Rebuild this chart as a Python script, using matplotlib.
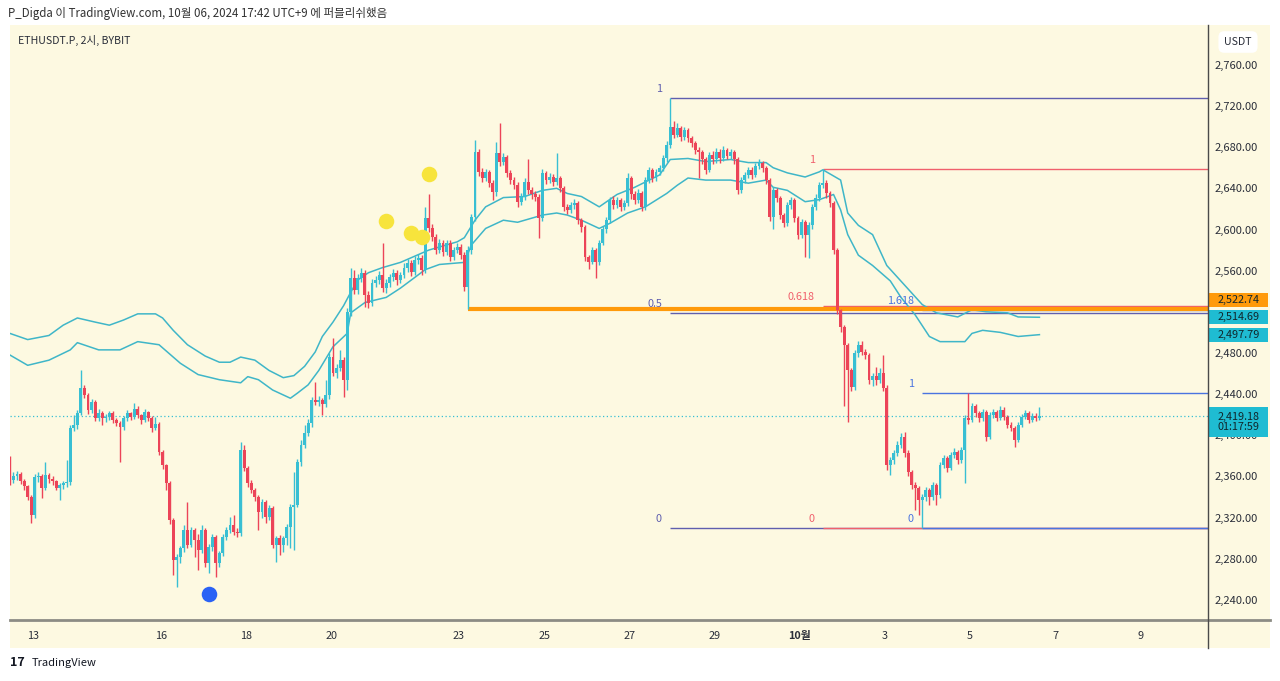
import numpy as np
import matplotlib
matplotlib.use("Agg")
import matplotlib.pyplot as plt
from matplotlib.patches import Rectangle
from matplotlib.lines import Line2D
import matplotlib.transforms as mtransforms

plt.rcParams['font.family'] = ['Noto Sans CJK KR', 'DejaVu Sans']

# ---- data (ETHUSDT.P, 2h candles) ----
header = "P_Digda 이 TradingView.com, 10월 06, 2024 17:42 UTC+9 에 퍼블리쉬했음"
symbol = "ETHUSDT.P, 2시, BYBIT"

first_hour = -13          # first candle: Sep 12 11:00, hours from Sep 13 00:00
first_open = 2368

closes = [
    2357, 2360, 2362, 2356, 2351, 2340, 2323, 2359, 2360, 2349,
    2361, 2358, 2356, 2349, 2352, 2354, 2355, 2407, 2410, 2422,
    2446, 2439, 2425, 2432, 2417, 2422, 2417, 2418, 2422, 2415,
    2412, 2408, 2417, 2422, 2418, 2426, 2420, 2415, 2423, 2417,
    2407, 2411, 2384, 2371, 2354, 2318, 2279, 2282, 2290, 2308,
    2293, 2308, 2298, 2289, 2308, 2276, 2291, 2301, 2276, 2286,
    2301, 2308, 2313, 2306, 2305, 2386, 2368, 2354, 2347, 2340,
    2325, 2335, 2321, 2329, 2293, 2300, 2293, 2300, 2311, 2330,
    2332, 2374, 2391, 2402, 2412, 2434, 2432, 2434, 2430, 2439,
    2476, 2461, 2465, 2473, 2454, 2520, 2553, 2541, 2553, 2558,
    2536, 2529, 2548, 2551, 2556, 2543, 2548, 2554, 2558, 2551,
    2556, 2563, 2567, 2559, 2570, 2572, 2561, 2611, 2601, 2593,
    2580, 2587, 2578, 2587, 2573, 2580, 2583, 2575, 2544, 2580,
    2612, 2675, 2656, 2650, 2656, 2645, 2636, 2674, 2666, 2670,
    2655, 2648, 2643, 2627, 2632, 2646, 2638, 2634, 2632, 2611,
    2655, 2648, 2651, 2646, 2650, 2640, 2622, 2619, 2624, 2626,
    2609, 2602, 2573, 2568, 2580, 2568, 2587, 2600, 2609, 2629,
    2624, 2629, 2622, 2626, 2650, 2634, 2629, 2635, 2622, 2648,
    2658, 2650, 2656, 2660, 2669, 2682, 2700, 2692, 2699, 2690,
    2697, 2689, 2684, 2677, 2675, 2668, 2658, 2672, 2668, 2675,
    2669, 2677, 2671, 2675, 2668, 2638, 2648, 2653, 2658, 2653,
    2662, 2665, 2660, 2648, 2612, 2638, 2631, 2614, 2606, 2624,
    2629, 2611, 2595, 2607, 2595, 2604, 2622, 2631, 2643, 2645,
    2635, 2626, 2580, 2522, 2505, 2488, 2463, 2447, 2480, 2488,
    2481, 2478, 2454, 2458, 2454, 2461, 2446, 2371, 2376, 2383,
    2391, 2398, 2383, 2364, 2352, 2349, 2337, 2340, 2347, 2340,
    2352, 2342, 2371, 2378, 2368, 2381, 2384, 2376, 2386, 2417,
    2415, 2428, 2422, 2417, 2423, 2398, 2420, 2423, 2417, 2425,
    2418, 2410, 2407, 2395, 2410, 2418, 2422, 2415, 2419, 2417,
    2419.18]

highs = [
    2380, 2364, 2365, 2364, 2358, 2352, 2342, 2362, 2364, 2362,
    2374, 2363, 2360, 2357, 2354, 2356, 2376, 2410, 2420, 2425,
    2463, 2449, 2441, 2435, 2434, 2426, 2424, 2421, 2424, 2424,
    2417, 2414, 2419, 2425, 2423, 2431, 2428, 2421, 2426, 2424,
    2419, 2418, 2413, 2386, 2372, 2356, 2320, 2285, 2292, 2313,
    2335, 2311, 2310, 2304, 2313, 2310, 2294, 2304, 2303, 2288,
    2304, 2311, 2321, 2323, 2310, 2393, 2391, 2370, 2357, 2349,
    2342, 2338, 2337, 2332, 2331, 2302, 2303, 2302, 2314, 2333,
    2364, 2377, 2395, 2410, 2416, 2437, 2452, 2438, 2436, 2454,
    2480, 2495, 2469, 2483, 2476, 2524, 2563, 2561, 2557, 2563,
    2561, 2540, 2552, 2555, 2560, 2587, 2552, 2557, 2562, 2561,
    2559, 2567, 2571, 2570, 2574, 2576, 2575, 2622, 2634, 2605,
    2596, 2591, 2590, 2590, 2590, 2583, 2587, 2586, 2578, 2584,
    2615, 2687, 2678, 2660, 2659, 2658, 2648, 2685, 2703, 2674,
    2672, 2658, 2651, 2646, 2635, 2650, 2668, 2641, 2637, 2634,
    2659, 2657, 2655, 2654, 2674, 2652, 2642, 2625, 2627, 2630,
    2628, 2611, 2604, 2575, 2583, 2582, 2590, 2603, 2612, 2632,
    2633, 2632, 2631, 2629, 2655, 2652, 2637, 2639, 2637, 2651,
    2661, 2660, 2659, 2663, 2672, 2686, 2728, 2705, 2703, 2701,
    2700, 2699, 2691, 2686, 2680, 2677, 2670, 2675, 2676, 2679,
    2678, 2681, 2679, 2678, 2677, 2670, 2651, 2656, 2661, 2661,
    2665, 2668, 2667, 2662, 2650, 2641, 2640, 2633, 2616, 2627,
    2632, 2631, 2613, 2610, 2609, 2607, 2625, 2634, 2646, 2659,
    2648, 2637, 2628, 2582, 2523, 2507, 2490, 2465, 2483, 2492,
    2492, 2484, 2480, 2461, 2466, 2465, 2478, 2449, 2379, 2386,
    2394, 2402, 2403, 2386, 2366, 2355, 2351, 2343, 2350, 2349,
    2355, 2354, 2374, 2381, 2380, 2384, 2388, 2386, 2389, 2420,
    2441, 2431, 2430, 2424, 2426, 2425, 2423, 2426, 2425, 2428,
    2427, 2420, 2413, 2409, 2413, 2421, 2425, 2424, 2422, 2422,
    2427]

lows = [
    2352, 2354, 2357, 2353, 2347, 2337, 2315, 2320, 2355, 2339,
    2347, 2354, 2352, 2347, 2337, 2348, 2350, 2352, 2404, 2406,
    2420, 2436, 2421, 2422, 2414, 2414, 2410, 2413, 2415, 2412,
    2409, 2374, 2405, 2414, 2415, 2416, 2417, 2411, 2413, 2414,
    2403, 2405, 2381, 2367, 2347, 2314, 2264, 2253, 2276, 2287,
    2290, 2291, 2282, 2269, 2286, 2272, 2266, 2288, 2262, 2272,
    2283, 2298, 2305, 2303, 2301, 2302, 2365, 2350, 2344, 2336,
    2308, 2320, 2315, 2318, 2290, 2277, 2284, 2287, 2293, 2290,
    2289, 2330, 2370, 2388, 2399, 2408, 2429, 2428, 2420, 2427,
    2435, 2458, 2456, 2462, 2437, 2444, 2516, 2537, 2537, 2549,
    2525, 2524, 2526, 2544, 2547, 2539, 2538, 2544, 2550, 2546,
    2548, 2553, 2559, 2555, 2556, 2566, 2556, 2558, 2598, 2589,
    2576, 2577, 2574, 2575, 2569, 2570, 2577, 2571, 2540, 2523,
    2576, 2608, 2652, 2646, 2647, 2641, 2629, 2633, 2662, 2663,
    2651, 2644, 2639, 2622, 2624, 2629, 2634, 2630, 2628, 2592,
    2608, 2644, 2645, 2642, 2643, 2636, 2618, 2615, 2616, 2620,
    2605, 2598, 2569, 2562, 2566, 2553, 2565, 2585, 2597, 2606,
    2620, 2621, 2618, 2619, 2623, 2630, 2625, 2626, 2618, 2619,
    2645, 2646, 2647, 2653, 2657, 2666, 2679, 2689, 2690, 2686,
    2687, 2685, 2680, 2673, 2650, 2664, 2654, 2656, 2664, 2665,
    2665, 2667, 2668, 2668, 2664, 2634, 2635, 2645, 2650, 2649,
    2651, 2659, 2656, 2644, 2608, 2600, 2627, 2610, 2602, 2603,
    2620, 2607, 2591, 2592, 2573, 2572, 2600, 2619, 2628, 2640,
    2631, 2622, 2576, 2518, 2500, 2428, 2413, 2443, 2444, 2476,
    2478, 2474, 2450, 2448, 2449, 2451, 2443, 2366, 2361, 2372,
    2380, 2388, 2379, 2360, 2348, 2327, 2323, 2310, 2336, 2332,
    2337, 2332, 2339, 2368, 2364, 2366, 2378, 2372, 2373, 2354,
    2411, 2413, 2418, 2413, 2414, 2394, 2396, 2417, 2414, 2415,
    2415, 2407, 2404, 2389, 2393, 2408, 2416, 2412, 2413, 2414,
    2415]

# two cyan band lines (candle index -> price)
upper_idx = [0, 5, 11, 15, 19, 24, 28, 32, 36, 41, 43, 46, 50, 55, 59, 62, 65, 69, 73, 77,
             80, 83, 86, 88, 91, 94, 96, 98, 101, 105, 110, 114, 118, 122, 126, 128, 131, 134,
             139, 145, 150, 154, 157, 161, 166, 171, 176, 183, 186, 191, 196, 203, 208, 213,
             215, 219, 224, 228, 229, 234, 236, 239, 243, 247, 252, 257, 261, 267, 271, 275,
             281, 284, 290]
upper_val = [2499, 2493, 2497, 2507, 2514, 2510, 2507, 2512, 2518, 2518, 2514, 2502, 2488,
             2477, 2471, 2471, 2476, 2473, 2463, 2456, 2458, 2467, 2481, 2496, 2510, 2526,
             2539, 2551, 2558, 2563, 2568, 2574, 2580, 2584, 2588, 2592, 2609, 2622, 2631,
             2632, 2638, 2640, 2635, 2632, 2622, 2634, 2641, 2653, 2668, 2669, 2666, 2668,
             2665, 2665, 2660, 2655, 2651, 2656, 2658, 2648, 2616, 2604, 2595, 2565, 2546,
             2527, 2519, 2515, 2522, 2520, 2519, 2515, 2514.69]
lower_idx = [0, 5, 11, 17, 19, 25, 31, 36, 42, 48, 53, 59, 65, 67, 70, 74, 79, 81, 84, 87,
             91, 95, 96, 100, 106, 110, 117, 121, 128, 130, 134, 139, 143, 145, 150, 154, 157,
             161, 166, 169, 174, 179, 185, 188, 191, 196, 203, 208, 213, 215, 219, 224, 228,
             232, 234, 236, 239, 243, 248, 251, 255, 259, 262, 269, 271, 274, 279, 284, 290]
lower_val = [2478, 2468, 2473, 2483, 2490, 2483, 2483, 2491, 2488, 2470, 2459, 2454, 2451,
             2457, 2454, 2444, 2436, 2441, 2449, 2463, 2486, 2499, 2519, 2529, 2534, 2543,
             2561, 2566, 2568, 2585, 2601, 2609, 2607, 2609, 2614, 2616, 2614, 2609, 2601,
             2606, 2616, 2622, 2635, 2643, 2650, 2648, 2648, 2645, 2648, 2641, 2638, 2627,
             2629, 2634, 2619, 2595, 2575, 2565, 2550, 2534, 2517, 2496, 2491, 2491, 2499,
             2502, 2500, 2496, 2497.79]

yellow_idx = [106, 113, 116, 118]
yellow_val = [2608, 2597, 2593, 2654]
blue_idx = [56]
blue_val = [2246]

orange_level = 2522.74
orange_from = 129
# fib drawings: (start candle, price of level 1, price of level 0, levels shown)
fib_purple = (186, 2728, 2310, [1, 0.5, 0])
fib_red = (229, 2659, 2310, [1, 0.618, 0])
fib_blue = (257, 2441, 2310, [1, 1.618, 0])

price_ticks = list(range(2240, 2761, 40))
hidden_tick = 2520        # covered by the price labels in the original
day_ticks = [0, 3, 5, 7, 10, 12, 14, 16, 18, 20, 22, 24, 26]   # days after Sep 13
day_labels = ['13', '16', '18', '20', '23', '25', '27', '29', '10월', '3', '5', '7', '9']
countdown = "01:17:59"

# ---- style ----
CREAM = '#fdf9e1'
UP = '#38bfd3'
DOWN = '#ec4458'
BAND = '#3fb6c8'
PURPLE = '#5f5fae'
RED = '#f0606c'
BLUE = '#4a74e0'
ORANGE = '#ff9a0a'
TEAL_BOX = '#1fbcd2'
TXT = '#2a2e39'

W, H = 1280, 681
fig = plt.figure(figsize=(12.8, 6.81), dpi=100, facecolor='white')


def fx(px):
    return px / W


def fy(py):
    return 1 - py / H


fig.patches.append(Rectangle((fx(10), fy(648)), fx(1270) - fx(10), fy(25) - fy(648),
                             transform=fig.transFigure, facecolor=CREAM,
                             edgecolor='none', zorder=-5))

ax = fig.add_axes([fx(10), fy(620), fx(1208) - fx(10), fy(25) - fy(620)])
ax.set_facecolor(CREAM)
ax.set_xlim(-12.96, 661.97)
ax.set_ylim(2220.5, 2798.7)
for s in ax.spines.values():
    s.set_visible(False)

n = len(closes)
hours = first_hour + 2 * np.arange(n)
o = np.array([first_open] + closes[:-1], dtype=float)
c = np.array(closes, dtype=float)
hi = np.array(highs, dtype=float)
lo = np.array(lows, dtype=float)
col = np.where(c >= o, UP, DOWN)


def idx_to_hour(idx):
    return first_hour + 2 * np.asarray(idx)


# candles
ax.vlines(hours, lo, hi, colors=col, linewidth=1.0, zorder=4)
ax.bar(hours, np.maximum(np.abs(c - o), 1.0), bottom=np.minimum(o, c), width=1.65,
       color=col, linewidth=0, zorder=5)

# bands
ax.plot(idx_to_hour(upper_idx), upper_val, color=BAND, lw=1.1, zorder=3)
ax.plot(idx_to_hour(lower_idx), lower_val, color=BAND, lw=1.1, zorder=3)

# current price dotted line
ax.axhline(c[-1], color=UP, lw=0.9, ls=(0, (1, 2)), zorder=2)

# orange horizontal ray
xmax = ax.get_xlim()[1]
ax.hlines(orange_level, idx_to_hour(orange_from), xmax, color=ORANGE, lw=3, zorder=3)

# fib drawings
for z, (start, one, zero, levels), color in [(2.1, fib_purple, PURPLE),
                                              (2.2, fib_red, RED),
                                              (2.3, fib_blue, BLUE)]:
    x0 = idx_to_hour(start)
    for lv in levels:
        y = zero + lv * (one - zero)
        ax.hlines(y, x0, xmax, color=color, lw=1.0, zorder=z)
        ax.annotate(f"{lv:g}", (x0, y), xytext=(-6, 3), textcoords='offset points',
                    ha='right', va='bottom', fontsize=7.8, color=color, zorder=6)

# signal dots
ax.scatter(idx_to_hour(yellow_idx), yellow_val, s=125, color='#f7e43c', zorder=6,
           linewidths=0)
ax.scatter(idx_to_hour(blue_idx), blue_val, s=125, color='#2a62f5', zorder=6,
           linewidths=0)

# axes ticks
ax.yaxis.tick_right()
ax.set_yticks(price_ticks)
ax.set_yticklabels(["" if v == hidden_tick else f"{v:,.2f}" for v in price_ticks])
ax.tick_params(axis='y', length=0, pad=5, labelsize=8, labelcolor=TXT)
ax.set_xticks([24 * d for d in day_ticks])
ax.set_xticklabels(day_labels)
ax.tick_params(axis='x', length=0, pad=8, labelsize=7.8, labelcolor=TXT)
for t in ax.get_xticklabels():
    if t.get_text() == '10월':
        t.set_fontweight('bold')

# price labels on the axis
ppx = (ax.get_ylim()[1] - ax.get_ylim()[0]) / (620 - 25)   # price per pixel
trans = mtransforms.blended_transform_factory(ax.transAxes, ax.transData)
box_w = 59 / (1208 - 10)


def price_box(val, text, fc, shift_px=0, h_px=14):
    yc = val + shift_px * ppx
    ax.add_patch(Rectangle((1.001, yc - h_px * ppx / 2), box_w, h_px * ppx,
                           transform=trans, facecolor=fc, edgecolor='none',
                           clip_on=False, zorder=10))
    ax.text(1.001 + box_w / 2, yc, text, transform=trans, ha='center', va='center',
            fontsize=7.8, color='#10262c', zorder=11, clip_on=False, linespacing=1.05)


price_box(orange_level, f"{orange_level:,.2f}", ORANGE, shift_px=9)
price_box(upper_val[-1], f"{upper_val[-1]:,.2f}", TEAL_BOX)
price_box(lower_val[-1], f"{lower_val[-1]:,.2f}", TEAL_BOX)
price_box(c[-1], f"{c[-1]:,.2f}\n{countdown}", TEAL_BOX, shift_px=-6.5, h_px=30)

# frame lines
fig.add_artist(Line2D([fx(10), fx(1270)], [fy(620), fy(620)], transform=fig.transFigure,
                      color='#8c8c84', lw=2))
fig.add_artist(Line2D([fx(1208), fx(1208)], [fy(25), fy(648)], transform=fig.transFigure,
                      color='#4a4a4a', lw=1))

# texts
fig.text(fx(8), fy(13), header, fontsize=8.3, color='#333333', va='center', ha='left')
fig.text(fx(18), fy(40), symbol, fontsize=7.6, color=TXT, va='center', ha='left')
fig.text(fx(1238), fy(42), "USDT", fontsize=7.6, color=TXT, va='center', ha='center',
         bbox=dict(boxstyle='round,pad=0.55', fc='white', ec='none'))
fig.text(fx(10), fy(663), "17", fontsize=9, fontweight='bold', color='#131722',
         va='center', ha='left')
fig.text(fx(32), fy(663), "TradingView", fontsize=8, color='#131722', va='center',
         ha='left')

fig.savefig('out.png', dpi=100, facecolor='white')
